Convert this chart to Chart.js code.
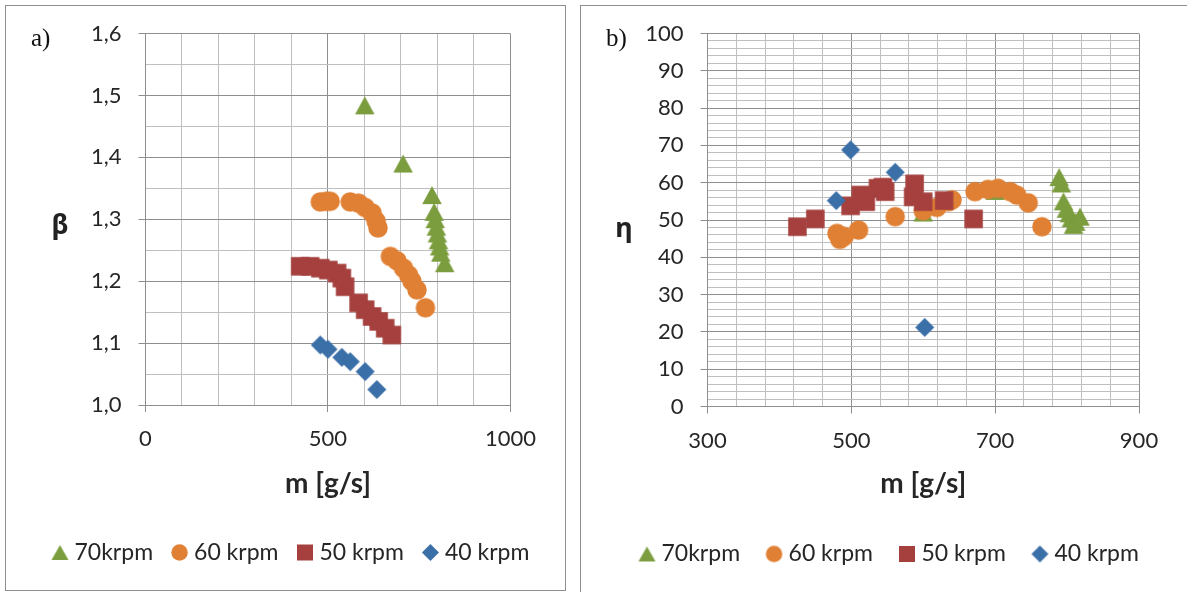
<!DOCTYPE html>
<html><head><meta charset="utf-8">
<script src="https://cdn.jsdelivr.net/npm/chart.js@4.4.0/dist/chart.umd.min.js"></script>
<style>
html,body{margin:0;padding:0;background:#fff;width:1187px;height:592px;overflow:hidden;position:relative}
.box{position:absolute;border:1px solid #8e8e8e;box-sizing:border-box;pointer-events:none}
.cv{position:absolute;top:0}
.lbl{position:absolute;font-family:"Liberation Serif",serif;font-size:25px;color:#111;line-height:25px;white-space:nowrap}
.yt{position:absolute;font-family:"Noto Sans",sans-serif;font-weight:bold;font-size:27px;color:#222;transform:translate(-50%,-50%);line-height:1;white-space:nowrap}
</style></head><body>
<canvas id="c1" class="cv" style="left:0" width="570" height="592"></canvas>
<canvas id="c2" class="cv" style="left:575px" width="612" height="592"></canvas>
<div class="box" style="left:5px;top:5px;width:561px;height:586px"></div>
<div class="box" style="left:580px;top:5px;width:620px;height:600px"></div>
<div class="lbl" style="left:31px;top:25px">a)</div>
<div class="lbl" style="left:606px;top:25px">b)</div>
<div class="yt" style="left:60px;top:223px">β</div>
<div class="yt" style="left:624px;top:226px">η</div>
<script>
// ---------- data ----------
const seriesNames = ['70krpm', '60 krpm', '50 krpm', '40 krpm'];
// chart a) : m [g/s] vs beta
const a70 = [[601,1.484],[706,1.390],[785,1.339],[791,1.312],[794,1.300],[797,1.288],[800,1.277],[803,1.266],[806,1.256],[809,1.246],[820,1.229]];
const a60 = [[479,1.328],[495,1.329],[506,1.329],[561,1.328],[584,1.326],[602,1.319],[621,1.310],[632,1.297],[637,1.286],[671,1.240],[689,1.233],[707,1.221],[721,1.210],[730,1.200],[744,1.186],[767,1.157]];
const a50 = [[424,1.224],[451,1.224],[479,1.221],[501,1.218],[525,1.213],[538,1.205],[547,1.191],[584,1.165],[602,1.154],[621,1.143],[639,1.135],[657,1.124],[675,1.113]];
const a40 = [[479,1.097],[500,1.090],[538,1.077],[561,1.070],[602,1.054],[634,1.025]];
// chart b) : m [g/s] vs eta
const b70 = [[600,52.0],[700,57.8],[789,61.5],[792,59.8],[795,55.0],[799,53.0],[803,51.8],[806,50.5],[809,48.7],[812,49.5],[818,50.9]];
const b60 = [[480,46.4],[484,44.8],[490,45.6],[510,47.3],[561,50.9],[600,52.5],[619,53.4],[635,54.9],[640,55.4],[672,57.6],[690,58.2],[704,58.5],[721,57.6],[730,56.7],[746,54.6],[765,48.2]];
const b50 = [[425,48.2],[450,50.3],[499,53.8],[513,56.7],[520,54.9],[537,58.5],[544,58.8],[547,57.6],[586,56.2],[588,59.7],[600,54.9],[629,55.2],[670,50.3]];
const b40 = [[479,55.2],[499,68.8],[561,62.8],[602,21.2]];
// axis tick labels
const aXTickLabels = [0, 500, 1000];
const aYTickLabels = ['1,0','1,1','1,2','1,3','1,4','1,5','1,6'];
const bXTickLabels = [300, 500, 700, 900];
const bYTickLabels = [0,10,20,30,40,50,60,70,80,90,100];

// ---------- styles ----------
const colors = ['#7b9d3e', '#e08034', '#a5403e', '#3b6fa8'];
const shapes = ['tri', 'circle', 'square', 'diamond'];
function marker(shape, color, w, h) {
  const c = document.createElement('canvas');
  c.width = Math.ceil(w) + 2; c.height = Math.ceil(h) + 2;
  const g = c.getContext('2d'); g.fillStyle = color;
  const cx = c.width / 2, cy = c.height / 2;
  g.beginPath();
  if (shape === 'tri') { g.moveTo(cx, cy - h/2); g.lineTo(cx + w/2, cy + h/2); g.lineTo(cx - w/2, cy + h/2); g.closePath(); }
  else if (shape === 'circle') { g.arc(cx, cy, w/2, 0, Math.PI*2); }
  else if (shape === 'square') { g.rect(cx - w/2, cy - h/2, w, h); }
  else { g.moveTo(cx, cy - h/2); g.lineTo(cx + w/2, cy); g.lineTo(cx, cy + h/2); g.lineTo(cx - w/2, cy); g.closePath(); }
  g.fill();
  return c;
}
const plotSizes = [[19.5,18],[19.5,19.5],[18.5,18.5],[19,19]];
const legSizes = [[17,15],[16.5,16.5],[16,16],[17,17]];
const plotImgs = shapes.map((s,i) => marker(s, colors[i], plotSizes[i][0], plotSizes[i][1]));
const legImgs = shapes.map((s,i) => marker(s, colors[i], legSizes[i][0], legSizes[i][1]));

const MAJOR = '#8e8e8e', MINOR = '#bfbfbf', TXT = '#262626';

function makeDatasets(list) {
  return list.map((arr, i) => ({
    label: seriesNames[i],
    data: arr.map(p => ({x: p[0], y: p[1]})),
    pointStyle: plotImgs[i],
    backgroundColor: colors[i],
    borderColor: colors[i],
    pointRadius: 10,
    showLine: false,
    order: 4 - i
  }));
}

function legendPlugin(h) {
  return { id: 'legFix', beforeInit(chart) {
    const lg = chart.legend; const orig = lg.fit;
    lg.fit = function() { orig.call(this); this.height = h; };
  }};
}

function makeChart(id, cfg) {
  return new Chart(document.getElementById(id), {
    type: 'scatter',
    data: { datasets: makeDatasets(cfg.series) },
    plugins: [legendPlugin(cfg.legH)],
    options: {
      responsive: false, animation: false, events: [],
      layout: { padding: { left: cfg.padL, right: 0, top: 33.5, bottom: 0 } },
      plugins: {
        tooltip: { enabled: false },
        legend: {
          position: 'bottom', align: 'start',
          labels: {
            usePointStyle: true, boxWidth: 6, padding: cfg.legPad, color: TXT,
            font: { family: 'Lato', size: 23 },
            sort: (a, b) => a.datasetIndex - b.datasetIndex,
            generateLabels(chart) {
              const items = Chart.defaults.plugins.legend.labels.generateLabels(chart);
              items.forEach(it => { it.pointStyle = legImgs[it.datasetIndex]; });
              return items;
            }
          }
        }
      },
      scales: {
        x: {
          type: 'linear', position: 'bottom', min: cfg.xMin, max: cfg.xMax,
          ticks: { stepSize: cfg.xStep, autoSkip: false, maxRotation: 0, padding: 14, color: TXT,
            font: { family: 'Lato', size: 22 },
            callback: v => cfg.xLabels.includes(Math.round(v)) ? String(Math.round(v)) : '' },
          grid: { lineWidth: 1, tickLength: 7,
            color: c => cfg.xLabels.includes(Math.round(c.tick.value)) ? MAJOR : MINOR,
            tickColor: c => cfg.xLabels.includes(Math.round(c.tick.value)) ? MAJOR : 'rgba(0,0,0,0)' },
          border: { color: MAJOR, width: 1 },
          title: { display: true, text: 'm [g/s]', color: TXT, font: { family: 'Lato', size: 28, weight: 'bold' },
            padding: { top: 0, bottom: cfg.titlePad } },
          afterFit(s) { s.height = cfg.xH; }
        },
        y: {
          type: 'linear', position: 'left', min: cfg.yMin, max: cfg.yMax,
          ticks: { stepSize: cfg.yStep, autoSkip: false, padding: 17, color: TXT,
            font: { family: 'Lato', size: 22 },
            callback: v => cfg.yLabel(v) },
          grid: { lineWidth: 1, tickLength: 7,
            color: c => cfg.yLabel(c.tick.value) !== '' ? MAJOR : MINOR,
            tickColor: c => cfg.yLabel(c.tick.value) !== '' ? MAJOR : 'rgba(0,0,0,0)' },
          border: { color: MAJOR, width: 1 },
          afterFit(s) { s.width = cfg.yW; }
        },
        pad: {
          type: 'linear', position: 'right', display: true,
          ticks: { display: false }, grid: { display: false }, border: { display: false },
          afterFit(s) { s.width = cfg.rightW; }
        }
      }
    }
  });
}

makeChart('c1', {
  series: [a70, a60, a50, a40],
  xMin: 0, xMax: 1000, xStep: 100, xLabels: aXTickLabels,
  yMin: 1.0, yMax: 1.6, yStep: 0.05,
  yLabel: v => { const k = Math.round(v * 100); if (k % 10 !== 0) return ''; const s = (k/100).toFixed(1).replace('.', ','); return aYTickLabels.includes(s) ? s : ''; },
  padL: 33.5, yW: 112, rightW: 59.6, xH: 112.5, legH: 74.5, legPad: 23.5, titlePad: 16.7
});
makeChart('c2', {
  series: [b70, b60, b50, b40],
  xMin: 300, xMax: 900, xStep: 40, xLabels: bXTickLabels,
  yMin: 0, yMax: 100, yStep: 2,
  yLabel: v => { const k = Math.round(v); return (k % 10 === 0 && bYTickLabels.includes(k)) ? String(k) : ''; },
  padL: 38, yW: 94.5, rightW: 48, xH: 105, legH: 80.5, legPad: 31, titlePad: 10.7
});
</script>
</body></html>
